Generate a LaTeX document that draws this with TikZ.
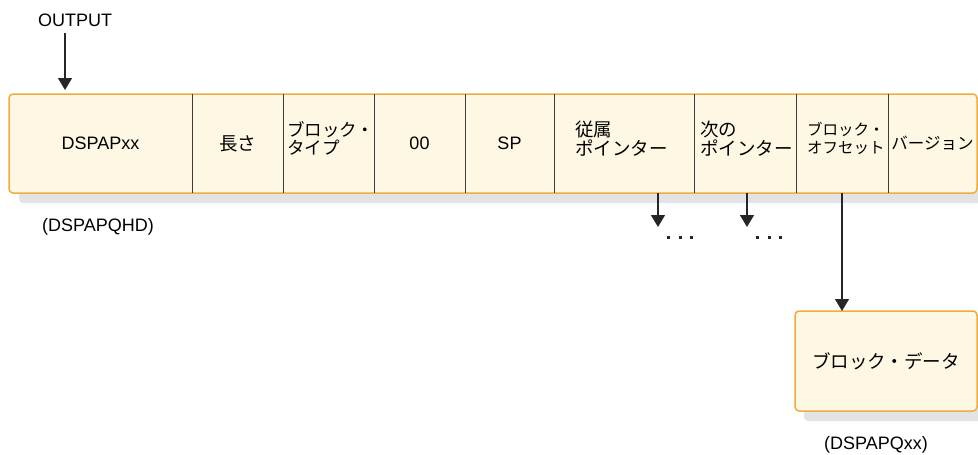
\documentclass[tikz,border=0pt]{standalone}
\usepackage{fontspec}
\setmainfont{Liberation Sans}
\newfontfamily\jp{Noto Sans CJK JP}
\usetikzlibrary{positioning,arrows.meta,backgrounds}

\definecolor{cream}{RGB}{253,247,228}
\definecolor{frameorange}{RGB}{240,172,62}
\definecolor{shadowgray}{RGB}{226,227,229}
\definecolor{divider}{RGB}{60,60,60}

\tikzset{
  cell/.style={minimum height=99pt, inner sep=0pt, outer sep=0pt,
    font=\fontsize{18}{20}\selectfont},
  jtext/.style={inner sep=0pt, align=left, anchor=west,
    font=\jp\fontsize{18.5}{18.5}\selectfont},
  ptr/.style={draw=black!85, line width=1.3pt, -{Triangle[length=12pt,width=14pt]}},
  dotsq/.style={fill=black!85},
  plain/.style={inner sep=0pt, font=\fontsize{18}{20}\selectfont}
}

\begin{document}
\begin{tikzpicture}[x=1pt, y=-1pt]
  \useasboundingbox (0,0) rectangle (978,455);

  % Champs de l'en-tete
  \node[cell, minimum width=183pt, anchor=north west] (dspap) at (9,94) {DSPAPxx};
  \node[cell, minimum width=91pt, right=0pt of dspap, font=\jp\fontsize{18.5}{19}\selectfont] (len) {長さ};
  \node[cell, minimum width=91pt, right=0pt of len] (btype) {};
  \node[cell, minimum width=91pt, right=0pt of btype] (zero) {00};
  \node[cell, minimum width=89pt, right=0pt of zero] (sp) {SP};
  \node[cell, minimum width=140pt, right=0pt of sp] (subptr) {};
  \node[cell, minimum width=102pt, right=0pt of subptr] (nextptr) {};
  \node[cell, minimum width=92pt, right=0pt of nextptr] (boff) {};
  \node[cell, minimum width=89pt, right=0pt of boff, font=\jp\fontsize{16.5}{19}\selectfont] (ver) {バージョン};

  % Textes sur deux lignes
  \node[jtext, yshift=5pt, font=\jp\fontsize{17.5}{18.5}\selectfont] (btypetxt) at ([xshift=4pt]btype.west) {ブロック・\\タイプ};
  \node[jtext, yshift=5pt] (subptrtxt) at ([xshift=21pt]subptr.west) {従属\\ポインター};
  \node[jtext, yshift=5pt] (nextptrtxt) at ([xshift=6pt]nextptr.west) {次の\\ポインター};
  \node[jtext, yshift=5pt, font=\jp\fontsize{15.5}{18.5}\selectfont] (bofftxt) at ([xshift=11pt]boff.west) {ブロック・\\オフセット};

  % Cadre, fond et ombre
  \begin{scope}[on background layer]
    \fill[shadowgray, rounded corners=4pt] ([shift={(10,10)}]dspap.north west) rectangle (990,203);
    \filldraw[fill=cream, draw=frameorange, line width=1.5pt, rounded corners=4pt]
      (dspap.north west) rectangle (ver.south east);
  \end{scope}

  % Separateurs
  \foreach \c in {len, btype, zero, sp, subptr, nextptr, boff, ver}
    \draw[divider, line width=1pt] (\c.north west) -- (\c.south west);

  % OUTPUT
  \node[plain] (out) at (75,20) {OUTPUT};
  \coordinate (outtip) at (65,90);
  \draw[ptr] ([yshift=-6pt]outtip |- out.south) -- (outtip);

  \node[plain] (hdname) at (98,227) {(DSPAPQHD)};

  % Pointeurs vers la suite
  \coordinate (subtip) at (658,227);
  \coordinate (nexttip) at (747,227);
  \draw[ptr] (subtip |- dspap.south) -- (subtip);
  \draw[ptr] (nexttip |- dspap.south) -- (nexttip);
  \foreach \t in {subtip, nexttip}
    \foreach \i in {0,1,2}
      \fill[dotsq] ([xshift={(9+11.5*\i)*1pt}, yshift=-8.5pt]\t) rectangle ++(3,3);

  % Bloc de donnees
  \fill[shadowgray, rounded corners=4pt] (804,321) rectangle (990,421);
  \node[cell, draw=frameorange, fill=cream, line width=1.5pt, rounded corners=4pt,
        minimum width=182pt, minimum height=100pt, anchor=north west,
        font=\jp\fontsize{18.5}{19}\selectfont] (bdata) at (795,311) {ブロック・データ};
  \draw[ptr] (boff.south) -- (boff.south |- bdata.north);

  \node[plain] (qname) at (876,445) {(DSPAPQxx)};
\end{tikzpicture}
\end{document}
